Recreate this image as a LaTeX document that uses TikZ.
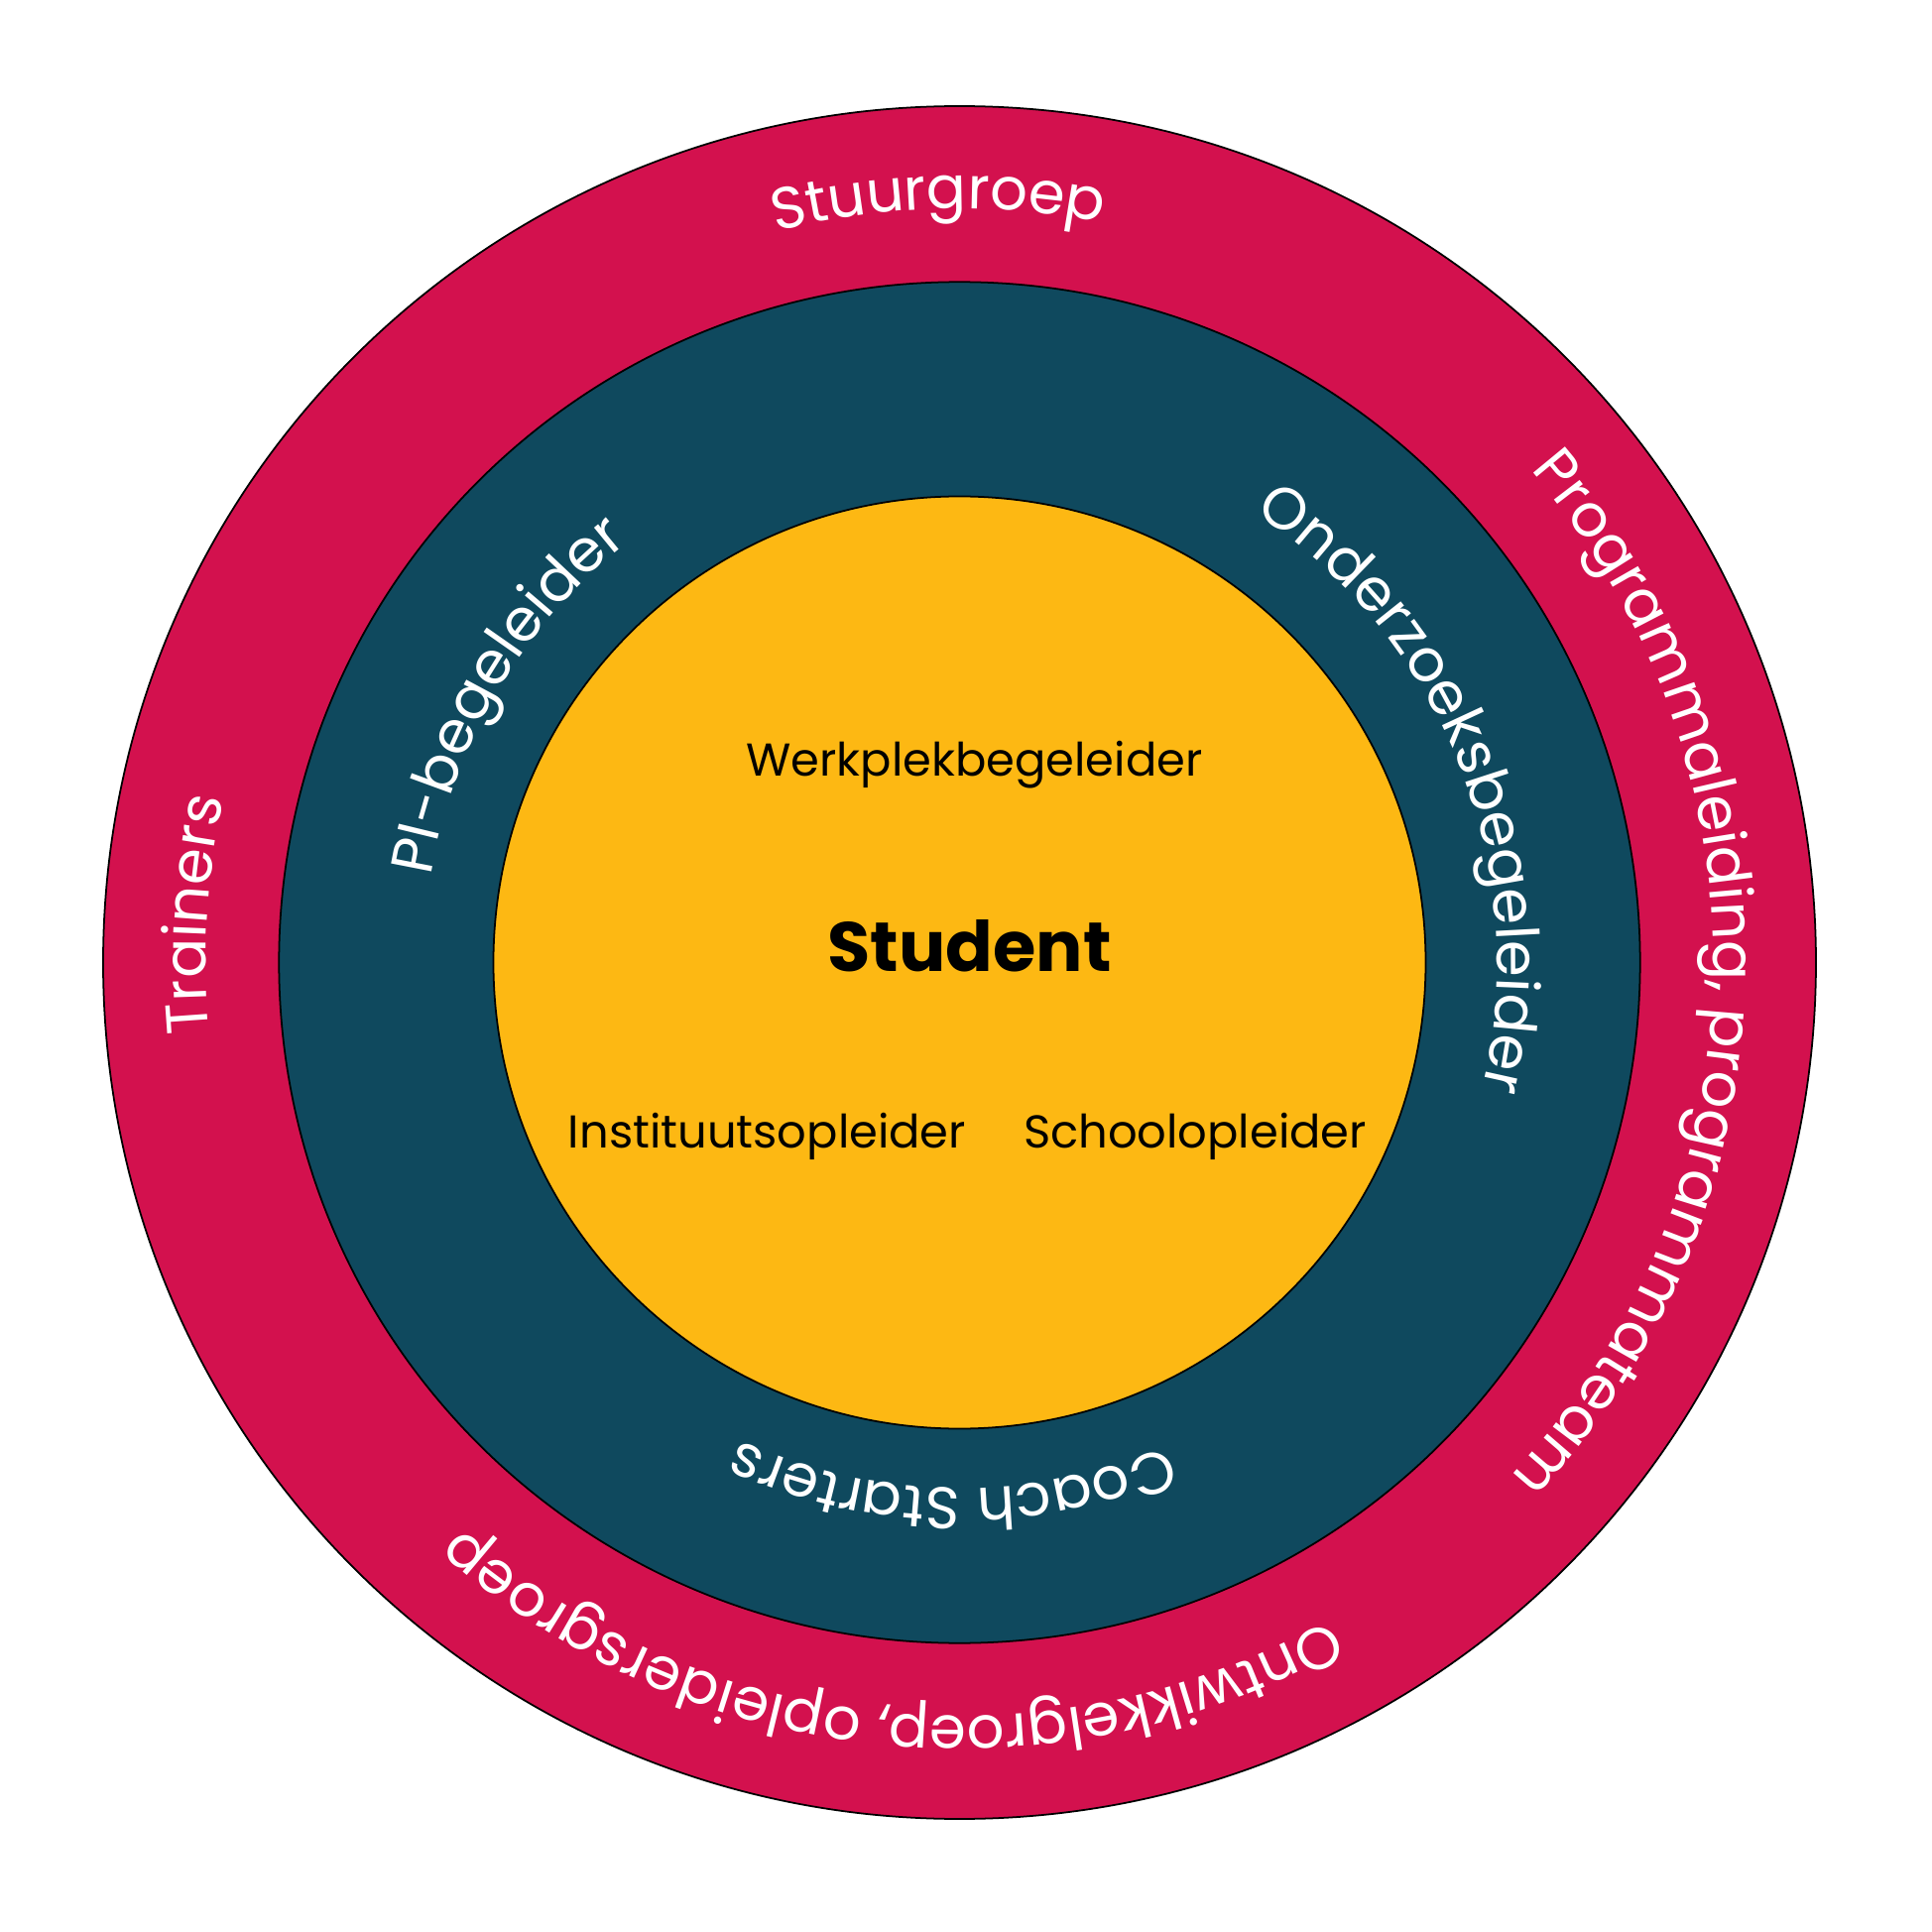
\documentclass[tikz,border=0pt]{standalone}
\usepackage{fontspec}
\setmainfont{Poppins}
\usetikzlibrary{decorations.text}
\definecolor{crimson}{HTML}{D3114E}
\definecolor{deepteal}{HTML}{0F495E}
\definecolor{gold}{HTML}{FDB813}
\newcommand\ringfont{\fontsize{16.9}{20}\selectfont}
\newcommand\innerfont{\fontsize{13.2}{16}\selectfont}
\newcommand\arctext[3]{%
  \path[decorate, decoration={text along path, text align=center,
    text color=white, text={|\ringfont|#3}}]
    (#2+90:#1) arc[start angle=#2+90, end angle=#2-90, radius=#1];}
\tikzset{
  ring/.style={draw=black, line width=0.5pt},
  innerlabel/.style={anchor=base, inner sep=0pt, font=\innerfont, text=black},
}
\begin{document}
\begin{tikzpicture}
\useasboundingbox (-9.675,-9.775) rectangle (9.805,9.705);
\fill[white] (-9.675,-9.775) rectangle (9.805,9.705);
\draw[ring, fill=crimson] (0,0) circle[radius=8.635cm];
\draw[ring, fill=deepteal] (0,0) circle[radius=6.862cm];
\draw[ring, fill=gold] (0,0) circle[radius=4.70cm];
% outer ring labels
\arctext{7.60cm}{91.6}{Stuurgroep}
\arctext{7.60cm}{176.4}{Trainers}
\arctext{7.60cm}{-1.1}{Programmaleiding, programmateam}
\arctext{7.60cm}{-96}{Ontwikkelgroep, opleidersgroep}
% middle ring labels
\arctext{5.40cm}{149.5}{PI-begeleider}
\arctext{5.42cm}{21.6}{Onderzoeksbegeleider}
\arctext{5.30cm}{-90.8}{Coach Starters}
% centre
\node[innerlabel] (werk) at (0.15,1.876) {Werkplekbegeleider};
\node[anchor=base, inner sep=0pt, font=\fontsize{20}{24}\selectfont\bfseries] (student) at (0.10,-0.094) {Student};
\node[innerlabel] (inst) at (-1.94,-1.87) {Instituutsopleider};
\node[innerlabel] (school) at (2.375,-1.87) {Schoolopleider};
\end{tikzpicture}
\end{document}
